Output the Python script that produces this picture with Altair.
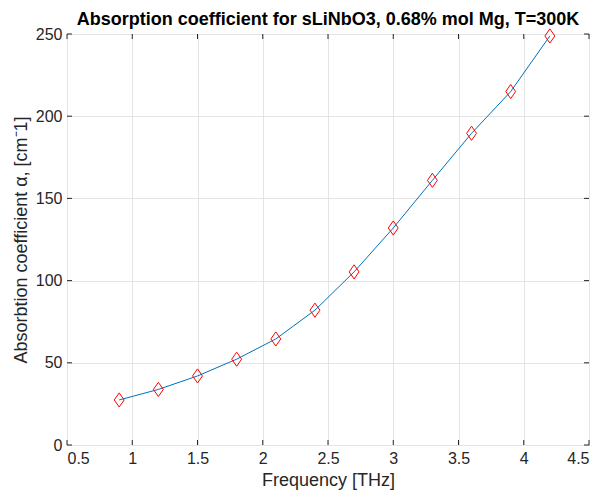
import altair as alt
import pandas as pd

freq = [0.9, 1.2, 1.5, 1.8, 2.1, 2.4, 2.7, 3.0, 3.3, 3.6, 3.9, 4.2]
alpha = [27.4, 33.8, 42.0, 52.2, 64.5, 82.0, 105.3, 132.0, 161.0, 189.6, 215.0, 248.8]
x_ticks = [0.5, 1.0, 1.5, 2.0, 2.5, 3.0, 3.5, 4.0, 4.5]
y_ticks = [0, 50, 100, 150, 200, 250]

W, H = 522, 411
FONT = "Liberation Sans"
AX = "#262626"

df = pd.DataFrame({"f": freq, "a": alpha})
xt = pd.DataFrame({"v": x_ticks})
yt = pd.DataFrame({"v": y_ticks})

xs = alt.Scale(domain=[0.5, 4.5], nice=False, zero=False)
ys = alt.Scale(domain=[0, 250], nice=False)

line = alt.Chart(df).mark_line(color="#0072BD", strokeWidth=1).encode(
    x=alt.X("f:Q", scale=xs, axis=alt.Axis(
        values=x_ticks, labelExpr="toString(datum.value)", title="Frequency [THz]", grid=True,
        tickSize=0, labelPadding=5, titlePadding=5)),
    y=alt.Y("a:Q", scale=ys, axis=alt.Axis(
        values=y_ticks, labelExpr="toString(datum.value)", title="Absorbtion coefficient α, [cm⁻1]", grid=True,
        tickSize=0, labelPadding=5, titlePadding=5)),
)

pts = alt.Chart(df).mark_point(
    shape="M0,-1L0.7,0L0,1L-0.7,0Z", size=200, color="#FF0000",
    filled=False, strokeWidth=1, opacity=1
).encode(x=alt.X("f:Q", scale=xs), y=alt.Y("a:Q", scale=ys))

tick_style = dict(color=AX, strokeWidth=1)
xb = alt.Chart(xt).mark_rule(**tick_style).encode(
    x=alt.X("v:Q", scale=xs), y=alt.value(H), y2=alt.value(H - 5))
xtop = alt.Chart(xt).mark_rule(**tick_style).encode(
    x=alt.X("v:Q", scale=xs), y=alt.value(0), y2=alt.value(5))
yl = alt.Chart(yt).mark_rule(**tick_style).encode(
    y=alt.Y("v:Q", scale=ys), x=alt.value(0), x2=alt.value(5))
yr = alt.Chart(yt).mark_rule(**tick_style).encode(
    y=alt.Y("v:Q", scale=ys), x=alt.value(W), x2=alt.value(W - 5))

chart = alt.layer(line, pts, xb, xtop, yl, yr).properties(
    width=W, height=H,
    title=alt.TitleParams(
        "Absorption coefficient for sLiNbO3, 0.68% mol Mg, T=300K",
        font=FONT, fontSize=18, fontWeight="bold", color="#000000",
        anchor="middle", frame="group", offset=-3),
    padding={"left": 59, "top": 26, "right": 5, "bottom": 45},
    autosize=alt.AutoSizeParams(type="none"),
).configure_view(
    stroke=AX, strokeWidth=1
).configure_axis(
    labelFont=FONT, titleFont=FONT, labelFontSize=16, titleFontSize=18,
    labelColor=AX, titleColor=AX, titleFontWeight="normal",
    gridColor="#e4e4e4", gridWidth=1, domain=False,
)

chart.save("out.html", embed_options={"renderer": "svg", "actions": False})
